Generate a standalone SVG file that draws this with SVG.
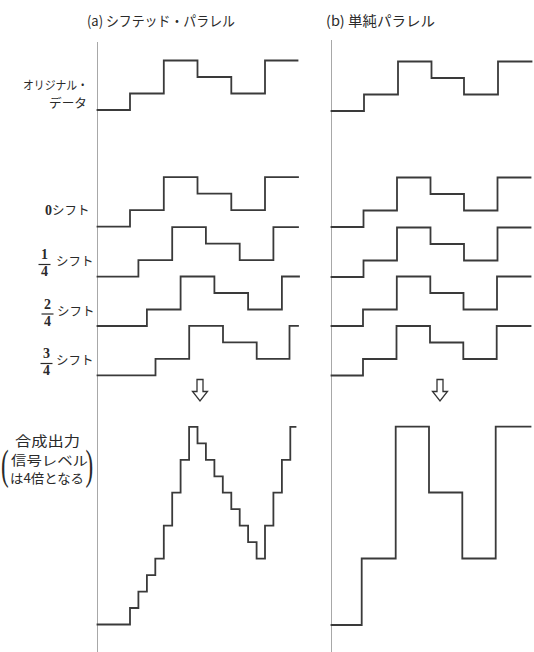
<svg xmlns="http://www.w3.org/2000/svg" width="534" height="652" viewBox="0 0 534 652">
<style>
.ax{stroke:#a8a8a8;stroke-width:1;fill:none}
.w{stroke:#3a3a3a;stroke-width:1.8;fill:none;stroke-linejoin:miter;stroke-linecap:square}
.jp{font-family:"Noto Sans CJK JP","Noto Sans",sans-serif;fill:#2a2a2a}
.num{font-family:"Liberation Serif",serif;fill:#2a2a2a;font-size:14px;font-weight:bold}
.par{font-family:"Liberation Serif",serif;fill:#2a2a2a;font-size:42px}
.arr{fill:#fff;stroke:#333;stroke-width:1.3;stroke-linejoin:miter}
</style>
<rect width="534" height="652" fill="#fff"/>

<g id="titles">
<text class="jp" x="87" y="25.5" font-size="14" textLength="148" lengthAdjust="spacingAndGlyphs">(a) シフテッド・パラレル</text>
<text class="jp" x="326" y="25.5" font-size="14" textLength="109" lengthAdjust="spacingAndGlyphs">(b) 単純パラレル</text>
</g>

<g id="axes">
<line class="ax" x1="97.5" y1="42" x2="97.5" y2="652"/>
<line class="ax" x1="331.5" y1="40" x2="331.5" y2="652"/>
</g>

<g id="labels">
<g id="label-original">
<text class="jp" x="23" y="90" font-size="12" textLength="65" lengthAdjust="spacingAndGlyphs">オリジナル・</text>
<text class="jp" x="49" y="107.5" font-size="12" textLength="38" lengthAdjust="spacingAndGlyphs">データ</text>
</g>
<g id="label-shift0">
<text x="45" y="215"><tspan class="num">0</tspan><tspan class="jp" font-size="12.5">シフト</tspan></text>
</g>
<g id="label-shift1">
<text class="num" x="44.5" y="258.5" text-anchor="middle">1</text>
<line x1="38.5" y1="264.5" x2="50.5" y2="264.5" stroke="#2a2a2a" stroke-width="1.2"/>
<text class="num" x="44.5" y="275.5" text-anchor="middle">4</text>
<text class="jp" x="56" y="265.5" font-size="12.5">シフト</text>
</g>
<g id="label-shift2">
<text class="num" x="47.5" y="308.5" text-anchor="middle">2</text>
<line x1="41.5" y1="314" x2="53.5" y2="314" stroke="#2a2a2a" stroke-width="1.2"/>
<text class="num" x="47.5" y="325.5" text-anchor="middle">4</text>
<text class="jp" x="57" y="315.5" font-size="12.5">シフト</text>
</g>
<g id="label-shift3">
<text class="num" x="46.5" y="357.5" text-anchor="middle">3</text>
<line x1="40.5" y1="363.5" x2="52.5" y2="363.5" stroke="#2a2a2a" stroke-width="1.2"/>
<text class="num" x="46.5" y="374.5" text-anchor="middle">4</text>
<text class="jp" x="56" y="365" font-size="12.5">シフト</text>
</g>
<g id="label-output">
<text class="jp" x="15" y="446" font-size="14" textLength="65" lengthAdjust="spacingAndGlyphs">合成出力</text>
<text class="jp" x="11" y="465" font-size="13" textLength="77" lengthAdjust="spacingAndGlyphs">信号レベル</text>
<text class="jp" x="10" y="483" font-size="13" textLength="74" lengthAdjust="spacingAndGlyphs">は4倍となる</text>
<text class="par" transform="translate(1,479) scale(0.55,1)">(</text>
<text class="par" transform="translate(85.5,479) scale(0.55,1)">)</text>
</g>
</g>

<g id="connectors">
<g id="wave-a-original"><path class="w" d="M97.5,110 H130 V93.5 H163.8 V60.5 H197.5 V77 H231.3 V93.5 H265 V60.5 H297.5"/></g>
<g id="wave-b-original"><path class="w" d="M331.5,111 H364 V94.5 H398 V61.5 H431.5 V78 H464 V94.5 H498 V61.5 H531.5"/></g>

<g id="wave-a-shift0"><path class="w" d="M97.5,226.7 H130 V210.2 H163.8 V177.2 H197.5 V193.7 H231.3 V210.2 H265 V177.2 H298"/></g>
<g id="wave-a-shift1"><path class="w" d="M97.5,276.7 H138.4 V260.2 H172.2 V227.2 H205.9 V243.7 H239.7 V260.2 H273.4 V227.2 H298"/></g>
<g id="wave-a-shift2"><path class="w" d="M97.5,326 H146.9 V309.5 H180.6 V276.5 H214.4 V293 H248.1 V309.5 H281.9 V276.5 H299"/></g>
<g id="wave-a-shift3"><path class="w" d="M97.5,375.3 H155.5 V358.8 H189.2 V325.8 H223 V342.3 H256.7 V358.8 H289.5 V325.8 H298"/></g>

<g id="wave-b-shift0"><path class="w" d="M331.5,227 H363.5 V210.5 H397 V177.5 H430.5 V194 H464 V210.5 H497.5 V177.5 H530.5"/></g>
<g id="wave-b-shift1"><path class="w" d="M331.5,277 H363.5 V260.5 H397 V227.5 H430.5 V244 H464 V260.5 H497.5 V227.5 H530.5"/></g>
<g id="wave-b-shift2"><path class="w" d="M331.5,326 H363 V309.5 H396.8 V276.5 H430.3 V293 H463.5 V309.5 H497 V276.5 H530.5"/></g>
<g id="wave-b-shift3"><path class="w" d="M331.5,375.5 H363 V359 H396.5 V326 H430 V342.5 H463.3 V359 H496.7 V326 H530.5"/></g>

<g id="arrow-a"><polygon class="arr" points="197,379.5 203,379.5 203,391.5 207.5,391.5 200,401 192.5,391.5 197,391.5"/></g>
<g id="arrow-b"><polygon class="arr" points="437,379.5 443,379.5 443,391.5 447.5,391.5 440,401 432.5,391.5 437,391.5"/></g>

<g id="wave-a-output"><path class="w" d="M97.5,624.5 H130 V608 H138.4 V591.6 H146.9 V575.1 H155.3 V558.6 H163.8 V525.7 H172.2 V492.7 H180.6 V459.8 H189.1 V426.9 H197.5 V443.3 H205.9 V459.8 H214.4 V476.3 H222.8 V492.7 H231.3 V509.2 H239.7 V525.7 H248.1 V542.2 H256.6 V558.6 H265 V525.7 H273.4 V492.7 H281.9 V459.8 H290.3 V426.9 H295.5"/></g>
<g id="wave-b-output"><path class="w" d="M331.5,625 H361.7 V558.5 H395.7 V426.7 H429 V492.5 H462.3 V558.5 H495.7 V426.7 H530.5"/></g>
</g>
</svg>
